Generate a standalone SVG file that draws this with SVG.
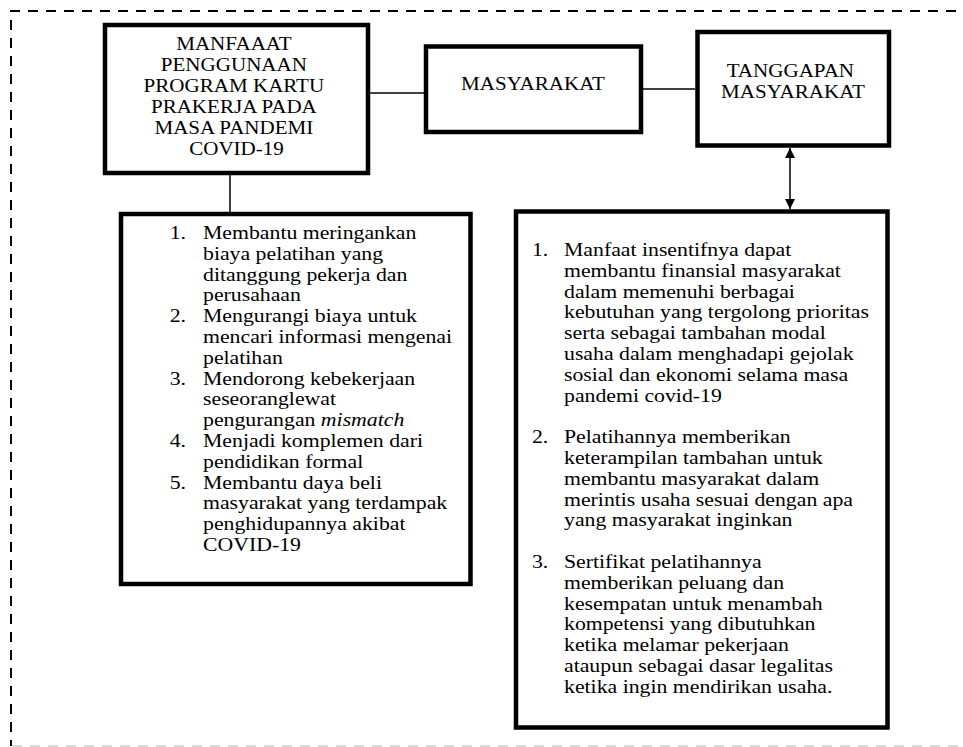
<svg xmlns="http://www.w3.org/2000/svg" width="963" height="747" viewBox="0 0 963 747">
<style>
.box{fill:#fff;stroke:#000;stroke-width:4.5}
.con{fill:none;stroke:#000;stroke-width:1.5}
.h{font-size:19.5px;text-anchor:middle}
.l{font-size:18px}
</style>
<defs>
<marker id="ah" viewBox="0 0 10 10" refX="10" refY="5" markerWidth="10" markerHeight="10" markerUnits="userSpaceOnUse" orient="auto-start-reverse">
<path d="M0,0 L10,5 L0,10 z" fill="#000"/>
</marker>
</defs>
<rect width="963" height="747" fill="#fff"/>
<g id="frame">
<line x1="10" y1="11" x2="963" y2="11" stroke="#000" stroke-width="2" stroke-dasharray="10 8"/>
<line x1="11" y1="20" x2="11" y2="746" stroke="#000" stroke-width="2" stroke-dasharray="10 8"/>
<line x1="12" y1="746" x2="963" y2="746" stroke="#d9d9d9" stroke-width="2" stroke-dasharray="10 8"/>
</g>
<g id="connectors">
<line class="con" x1="370" y1="93" x2="424" y2="93"/>
<line class="con" x1="643" y1="89" x2="695" y2="89"/>
<line class="con" x1="230" y1="175" x2="230" y2="212"/>
<line class="con" x1="790" y1="148" x2="790" y2="209" marker-start="url(#ah)" marker-end="url(#ah)"/>
</g>
<g id="manfaat">
<rect class="box" x="105" y="25" width="263" height="148"/>
<text class="h" font-family="Liberation Serif" fill="#000" transform="translate(236.5 0) scale(1.08 1)">
<tspan x="0" y="50">MANFAAAT</tspan>
<tspan x="0" y="71">PENGGUNAAN</tspan>
<tspan x="0" y="92">PROGRAM KARTU</tspan>
<tspan x="0" y="113">PRAKERJA PADA</tspan>
<tspan x="0" y="134">MASA PANDEMI</tspan>
<tspan x="0" y="155">COVID-19</tspan>
</text>
</g>
<g id="masyarakat">
<rect class="box" x="426" y="46.5" width="215" height="85.5"/>
<text class="h" font-family="Liberation Serif" fill="#000" transform="translate(533 0) scale(1.08 1)"><tspan x="0" y="90">MASYARAKAT</tspan></text>
</g>
<g id="tanggapan">
<rect class="box" x="697.5" y="32" width="191.5" height="113.5"/>
<text class="h" font-family="Liberation Serif" fill="#000" transform="translate(793 0) scale(1.08 1)">
<tspan x="0" y="77">TANGGAPAN</tspan>
<tspan x="0" y="98">MASYARAKAT</tspan>
</text>
</g>
<g id="list-manfaat">
<rect class="box" x="121" y="214" width="349.5" height="370"/>
<text class="l" font-family="Liberation Serif" fill="#000" transform="translate(203 0) scale(1.21 1)">
<tspan x="-27.5" y="239">1.</tspan><tspan x="0" y="239">Membantu meringankan</tspan>
<tspan x="0" y="259.8">biaya pelatihan yang</tspan>
<tspan x="0" y="280.6">ditanggung pekerja dan</tspan>
<tspan x="0" y="301.4">perusahaan</tspan>
<tspan x="-27.5" y="322.2">2.</tspan><tspan x="0" y="322.2">Mengurangi biaya untuk</tspan>
<tspan x="0" y="343">mencari informasi mengenai</tspan>
<tspan x="0" y="363.8">pelatihan</tspan>
<tspan x="-27.5" y="384.6">3.</tspan><tspan x="0" y="384.6">Mendorong kebekerjaan</tspan>
<tspan x="0" y="405.4">seseoranglewat</tspan>
<tspan x="0" y="426.2">pengurangan <tspan font-style="italic">mismatch</tspan></tspan>
<tspan x="-27.5" y="447">4.</tspan><tspan x="0" y="447">Menjadi komplemen dari</tspan>
<tspan x="0" y="467.8">pendidikan formal</tspan>
<tspan x="-27.5" y="488.6">5.</tspan><tspan x="0" y="488.6">Membantu daya beli</tspan>
<tspan x="0" y="509.4">masyarakat yang terdampak</tspan>
<tspan x="0" y="530.2">penghidupannya akibat</tspan>
<tspan x="0" y="551">COVID-19</tspan>
</text>
</g>
<g id="list-tanggapan">
<rect class="box" x="516" y="211.5" width="371.5" height="516"/>
<text class="l" font-family="Liberation Serif" fill="#000" transform="translate(564 0) scale(1.21 1)">
<tspan x="-26.5" y="256">1.</tspan><tspan x="0" y="256">Manfaat insentifnya dapat</tspan>
<tspan x="0" y="276.8">membantu finansial masyarakat</tspan>
<tspan x="0" y="297.6">dalam memenuhi berbagai</tspan>
<tspan x="0" y="318.4">kebutuhan yang tergolong prioritas</tspan>
<tspan x="0" y="339.2">serta sebagai tambahan modal</tspan>
<tspan x="0" y="360">usaha dalam menghadapi gejolak</tspan>
<tspan x="0" y="380.8">sosial dan ekonomi selama masa</tspan>
<tspan x="0" y="401.6">pandemi covid-19</tspan>
<tspan x="-26.5" y="443.2">2.</tspan><tspan x="0" y="443.2">Pelatihannya memberikan</tspan>
<tspan x="0" y="464">keterampilan tambahan untuk</tspan>
<tspan x="0" y="484.8">membantu masyarakat dalam</tspan>
<tspan x="0" y="505.6">merintis usaha sesuai dengan apa</tspan>
<tspan x="0" y="526.4">yang masyarakat inginkan</tspan>
<tspan x="-26.5" y="568">3.</tspan><tspan x="0" y="568">Sertifikat pelatihannya</tspan>
<tspan x="0" y="588.8">memberikan peluang dan</tspan>
<tspan x="0" y="609.6">kesempatan untuk menambah</tspan>
<tspan x="0" y="630.4">kompetensi yang dibutuhkan</tspan>
<tspan x="0" y="651.2">ketika melamar pekerjaan</tspan>
<tspan x="0" y="672">ataupun sebagai dasar legalitas</tspan>
<tspan x="0" y="692.8">ketika ingin mendirikan usaha.</tspan>
</text>
</g>
</svg>
